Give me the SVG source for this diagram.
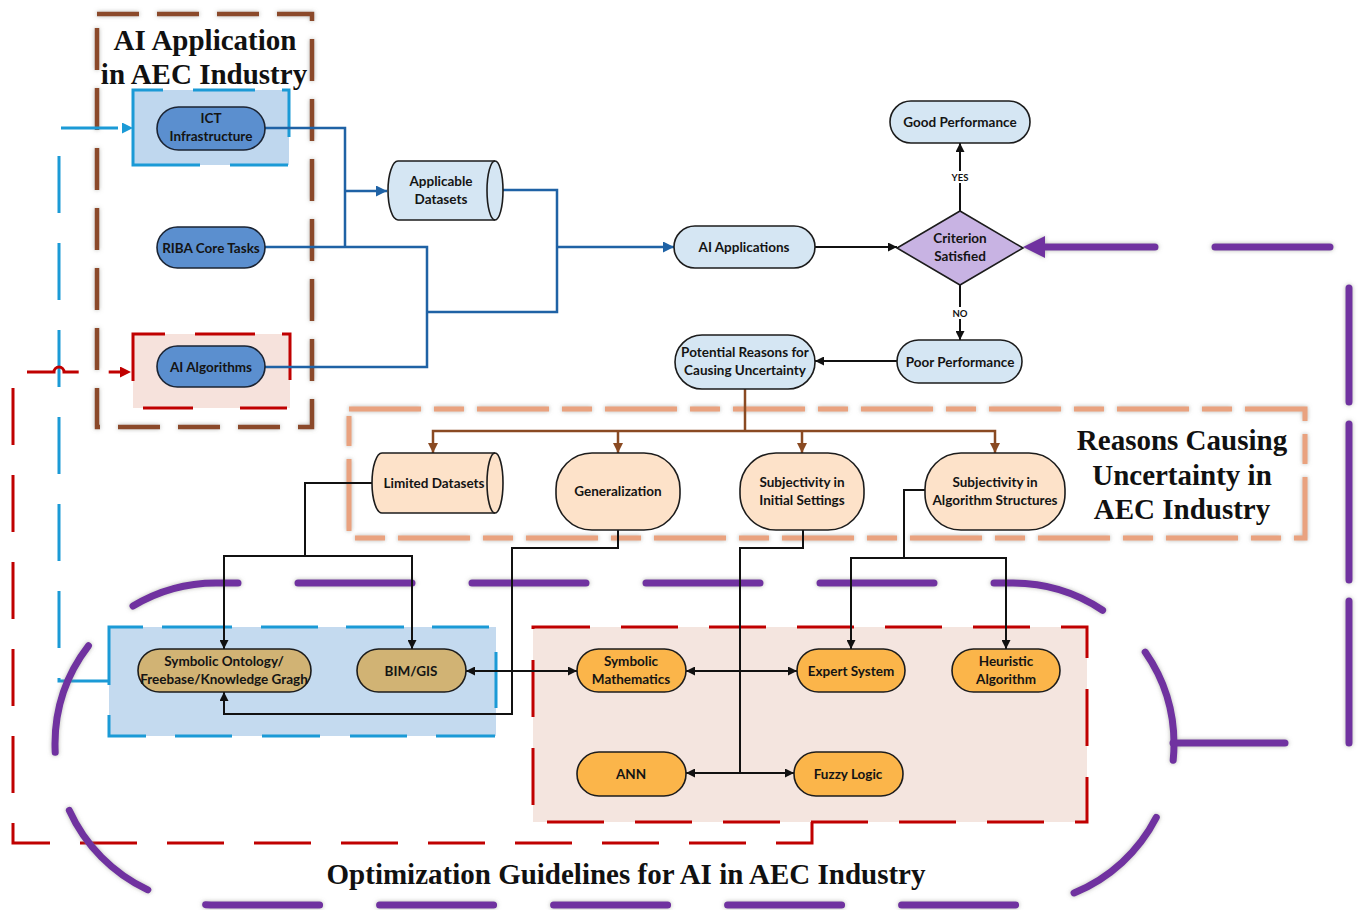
<svg xmlns="http://www.w3.org/2000/svg" width="1359" height="910" viewBox="0 0 1359 910">
  <defs>
    <style>
      .nd text { font-family: Lato, "Open Sans", "Liberation Sans", sans-serif; font-weight: 700; font-size: 13.5px; text-anchor: middle; fill: #141414; }
      .dark { fill: #5b8fcf; stroke: #1b2433; stroke-width: 1.6; }
      .light { fill: #d5e6f3; stroke: #1c1c1c; stroke-width: 1.6; }
      .peach { fill: #fde2c9; stroke: #1c1c1c; stroke-width: 1.6; }
      .tan { fill: #d1b374; stroke: #1c1c1c; stroke-width: 1.6; }
      .orange { fill: #fbb54a; stroke: #1c1c1c; stroke-width: 1.6; }
      .title { font-family: "Liberation Serif", "Times New Roman", serif; font-weight: 700; font-size: 29px; text-anchor: middle; fill: #111; }
      .blueflow { fill: none; stroke: #1f62a5; stroke-width: 2.5; }
      .black { fill: none; stroke: #111; stroke-width: 2; }
      .brown { fill: none; stroke: #8a4a22; stroke-width: 2.5; }
      .purple { fill: none; stroke: #7030a0; stroke-width: 7; stroke-linecap: round; }
      .lbl { font-family: Lato, "Liberation Sans", sans-serif; font-weight: 700; font-size: 9.5px; text-anchor: middle; fill: #111; }
    </style>
    <filter id="halo" filterUnits="userSpaceOnUse" x="0" y="0" width="1359" height="910">
      <feGaussianBlur in="SourceAlpha" stdDeviation="2.2" result="b"/>
      <feFlood flood-color="#7a7a70" flood-opacity="0.55"/>
      <feComposite in2="b" operator="in" result="s"/>
      <feMerge><feMergeNode in="s"/><feMergeNode in="SourceGraphic"/></feMerge>
    </filter>
    <marker id="ak" viewBox="0 0 10 10" refX="10" refY="5" markerWidth="9" markerHeight="9" markerUnits="userSpaceOnUse" orient="auto-start-reverse">
      <path d="M0 0 L10 5 L0 10 z" fill="#111"/>
    </marker>
    <marker id="ab" viewBox="0 0 10 10" refX="10" refY="5" markerWidth="11" markerHeight="11" markerUnits="userSpaceOnUse" orient="auto">
      <path d="M0 0 L10 5 L0 10 z" fill="#1f62a5"/>
    </marker>
    <marker id="abr" viewBox="0 0 10 10" refX="10" refY="5" markerWidth="10" markerHeight="10" markerUnits="userSpaceOnUse" orient="auto-start-reverse">
      <path d="M0 0 L10 5 L0 10 z" fill="#8a4a22"/>
    </marker>
    <marker id="acy" viewBox="0 0 10 10" refX="0" refY="5" markerWidth="11" markerHeight="11" markerUnits="userSpaceOnUse" orient="auto">
      <path d="M0 0 L10 5 L0 10 z" fill="#1b9ad6"/>
    </marker>
    <marker id="ar" viewBox="0 0 10 10" refX="0" refY="5" markerWidth="11" markerHeight="11" markerUnits="userSpaceOnUse" orient="auto">
      <path d="M0 0 L10 5 L0 10 z" fill="#c00000"/>
    </marker>
    <marker id="ap" viewBox="0 0 10 10" refX="0" refY="5" markerWidth="22" markerHeight="24" markerUnits="userSpaceOnUse" orient="auto">
      <path d="M0 0 L10 5 L0 10 z" fill="#7030a0"/>
    </marker>
  </defs>

  <rect width="1359" height="910" fill="#ffffff"/>

  <!-- group frames -->
  <g id="frames">
    <rect x="97" y="14" width="215" height="413" fill="none" stroke="#8b4a2b" stroke-width="4.5" stroke-dasharray="42 18" filter="url(#halo)"/>
    <rect x="133" y="90" width="156" height="75" fill="#bfd7ee"/>
    <path d="M 289 137 V 90 H 133 V 165 H 289" fill="none" stroke="#1b9ad6" stroke-width="3" stroke-dasharray="54 27 62 30 172 30 58 3"/>
    <rect x="133" y="334" width="157" height="74" fill="#f6e2dc"/>
    <path d="M 290 380 V 334 H 133 V 408 H 290" fill="none" stroke="#c00000" stroke-width="3" stroke-dasharray="54 27 60 30 79 37 50 47 47 3"/>
    <rect x="349" y="409" width="956" height="129" fill="none" stroke="#e9a27f" stroke-width="5" stroke-dasharray="72 13 30 13" filter="url(#halo)"/>
    <rect x="109" y="627" width="387" height="109" fill="#c4daef"/>
    <path d="M 109 627 H 496 V 736 H 109 Z" fill="none" stroke="#1b9ad6" stroke-width="3" stroke-dasharray="34 19 70 29 57 28 58 28 57 32 56 29 59 29 57 30 58 30 57 29 58 30 58"/>
    <rect x="533" y="627" width="554" height="195" fill="#f4e5df"/>
    <rect x="533" y="627" width="554" height="195" fill="none" stroke="#c00000" stroke-width="3" stroke-dasharray="57 31"/>
  </g>

  <!-- group titles -->
  <g id="titles">
    <text class="title" x="205" y="50">AI Application</text>
    <text class="title" x="204" y="84">in AEC Industry</text>
    <text class="title" x="1182" y="450">Reasons Causing</text>
    <text class="title" x="1182" y="485">Uncertainty in</text>
    <text class="title" x="1182" y="519">AEC Industry</text>
    <text class="title" x="626" y="884">Optimization Guidelines for AI in AEC Industry</text>
  </g>

  <!-- feedback loops -->
  <g id="loops">
    <path d="M 110 681 H 59 V 128 H 122" fill="none" stroke="#1b9ad6" stroke-width="3" stroke-dasharray="57 30" stroke-dashoffset="3" marker-end="url(#acy)"/>
    <path d="M 812 822 V 843 H 13 V 372 H 54 A 5 5 0 0 1 64 372 H 120" fill="none" stroke="#c00000" stroke-width="3" stroke-dasharray="57 30" marker-end="url(#ar)"/>
    <g filter="url(#halo)">
      <path class="purple" d="M 216 583 H 1013 A 161 161 0 0 1 1013 905 H 216 A 161 161 0 0 1 216 583 Z" stroke-dasharray="114 60" stroke-dashoffset="92"/>
      <path class="purple" d="M 1173 743 H 1349 V 247 H 1045" stroke-dasharray="112 64 142 21 156 22 114 60 115 60 110" marker-end="url(#ap)"/>
    </g>
  </g>

  <!-- connectors -->
  <g id="connectors">
    <path class="blueflow" d="M 265 128 H 345 V 247"/>
    <path class="blueflow" d="M 345 191 H 387" marker-end="url(#ab)"/>
    <path class="blueflow" d="M 265 247 H 427 V 367 H 265"/>
    <path class="blueflow" d="M 427 312 H 557 V 190 H 495"/>
    <path class="blueflow" d="M 557 247 H 674" marker-end="url(#ab)"/>

    <path class="black" d="M 815 247 H 897" marker-end="url(#ak)"/>
    <path class="black" d="M 960 211 V 143" marker-end="url(#ak)"/>
    <path class="black" d="M 960 285 V 340" marker-end="url(#ak)"/>
    <path class="black" d="M 897 361 H 815" marker-end="url(#ak)"/>

    <path class="brown" d="M 745 389 V 431"/>
    <path class="brown" d="M 433 453 V 431 H 995 V 453" marker-start="url(#abr)" marker-end="url(#abr)"/>
    <path class="brown" d="M 618 431 V 453" marker-end="url(#abr)"/>
    <path class="brown" d="M 802 431 V 453" marker-end="url(#abr)"/>

    <path class="black" d="M 372 483 H 305 V 556"/>
    <path class="black" d="M 224 649 V 556 H 412 V 649" marker-start="url(#ak)" marker-end="url(#ak)"/>
    <path class="black" d="M 618 530 V 548 H 512 V 714 H 224 V 692" marker-end="url(#ak)"/>
    <path class="black" d="M 466 671 H 577" marker-start="url(#ak)" marker-end="url(#ak)"/>
    <path class="black" d="M 803 530 V 548 H 740 V 773"/>
    <path class="black" d="M 686 671 H 797" marker-start="url(#ak)" marker-end="url(#ak)"/>
    <path class="black" d="M 686 773 H 794" marker-start="url(#ak)" marker-end="url(#ak)"/>
    <path class="black" d="M 925 490 H 904 V 558"/>
    <path class="black" d="M 851 649 V 558 H 1006 V 649" marker-start="url(#ak)" marker-end="url(#ak)"/>

    <rect x="948" y="171" width="24" height="12" fill="#fff"/>
    <text class="lbl" x="960" y="180.5">YES</text>
    <rect x="950" y="307" width="20" height="12" fill="#fff"/>
    <text class="lbl" x="960" y="316.5">NO</text>
  </g>

  <!-- nodes -->
  <g id="ict" class="nd">
    <rect class="dark" x="157" y="107" width="108" height="43" rx="21.5"/>
    <text x="211" y="123">ICT</text>
    <text x="211" y="141">Infrastructure</text>
  </g>
  <g id="riba" class="nd">
    <rect class="dark" x="157" y="227" width="108" height="41" rx="20.5"/>
    <text x="211" y="252.5">RIBA Core Tasks</text>
  </g>
  <g id="ai-algorithms" class="nd">
    <rect class="dark" x="157" y="346" width="108" height="41" rx="20.5"/>
    <text x="211" y="371.5">AI Algorithms</text>
  </g>
  <g id="applicable-datasets" class="nd">
    <path class="light" d="M 398 161 H 495 A 8 29.5 0 0 1 495 220 H 398 A 10 29.5 0 0 1 398 161 Z"/>
    <path d="M 495 161 A 8 29.5 0 0 0 495 220" fill="none" stroke="#1c1c1c" stroke-width="1.6"/>
    <text x="441" y="186">Applicable</text>
    <text x="441" y="204">Datasets</text>
  </g>
  <g id="ai-applications" class="nd">
    <rect class="light" x="674" y="226" width="141" height="42" rx="21"/>
    <text x="744" y="252">AI Applications</text>
  </g>
  <g id="criterion" class="nd">
    <polygon points="960,211 1023,248 960,285 897,248" fill="#c8b3e3" stroke="#1c1c1c" stroke-width="1.6"/>
    <text x="960" y="243">Criterion</text>
    <text x="960" y="260.5">Satisfied</text>
  </g>
  <g id="good-performance" class="nd">
    <rect class="light" x="890" y="101" width="140" height="42" rx="21"/>
    <text x="960" y="127">Good Performance</text>
  </g>
  <g id="poor-performance" class="nd">
    <rect class="light" x="897" y="340" width="125" height="43" rx="21.5"/>
    <text x="960" y="366.5">Poor Performance</text>
  </g>
  <g id="potential-reasons" class="nd">
    <rect class="light" x="675" y="335" width="140" height="54" rx="27"/>
    <text x="745" y="357">Potential Reasons for</text>
    <text x="745" y="375">Causing Uncertainty</text>
  </g>
  <g id="limited-datasets" class="nd">
    <path class="peach" d="M 382 453 H 495 A 8 30 0 0 1 495 513 H 382 A 10 30 0 0 1 382 453 Z"/>
    <path d="M 495 453 A 8 30 0 0 0 495 513" fill="none" stroke="#1c1c1c" stroke-width="1.6"/>
    <text x="434" y="487.5">Limited Datasets</text>
  </g>
  <g id="generalization" class="nd">
    <rect class="peach" x="556" y="453" width="124" height="77" rx="36"/>
    <text x="618" y="496">Generalization</text>
  </g>
  <g id="subjectivity-initial" class="nd">
    <rect class="peach" x="740" y="453" width="124" height="77" rx="36"/>
    <text x="802" y="487">Subjectivity in</text>
    <text x="802" y="505">Initial Settings</text>
  </g>
  <g id="subjectivity-algorithm" class="nd">
    <rect class="peach" x="925" y="453" width="140" height="77" rx="36"/>
    <text x="995" y="487">Subjectivity in</text>
    <text x="995" y="505">Algorithm Structures</text>
  </g>
  <g id="symbolic-ontology" class="nd">
    <rect class="tan" x="138" y="649" width="173" height="43" rx="21.5"/>
    <text x="224" y="666">Symbolic Ontology/</text>
    <text x="224" y="684">Freebase/Knowledge Gragh</text>
  </g>
  <g id="bim-gis" class="nd">
    <rect class="tan" x="357" y="649" width="109" height="43" rx="21.5"/>
    <text x="411" y="675.5">BIM/GIS</text>
  </g>
  <g id="symbolic-mathematics" class="nd">
    <rect class="orange" x="577" y="649" width="109" height="43" rx="21.5"/>
    <text x="631" y="666">Symbolic</text>
    <text x="631" y="684">Mathematics</text>
  </g>
  <g id="expert-system" class="nd">
    <rect class="orange" x="797" y="649" width="108" height="43" rx="21.5"/>
    <text x="851" y="675.5">Expert System</text>
  </g>
  <g id="heuristic" class="nd">
    <rect class="orange" x="952" y="649" width="108" height="43" rx="21.5"/>
    <text x="1006" y="666">Heuristic</text>
    <text x="1006" y="684">Algorithm</text>
  </g>
  <g id="ann" class="nd">
    <rect class="orange" x="577" y="752" width="109" height="44" rx="22"/>
    <text x="631" y="778.5">ANN</text>
  </g>
  <g id="fuzzy-logic" class="nd">
    <rect class="orange" x="794" y="752" width="109" height="44" rx="22"/>
    <text x="848" y="778.5">Fuzzy Logic</text>
  </g>
</svg>
